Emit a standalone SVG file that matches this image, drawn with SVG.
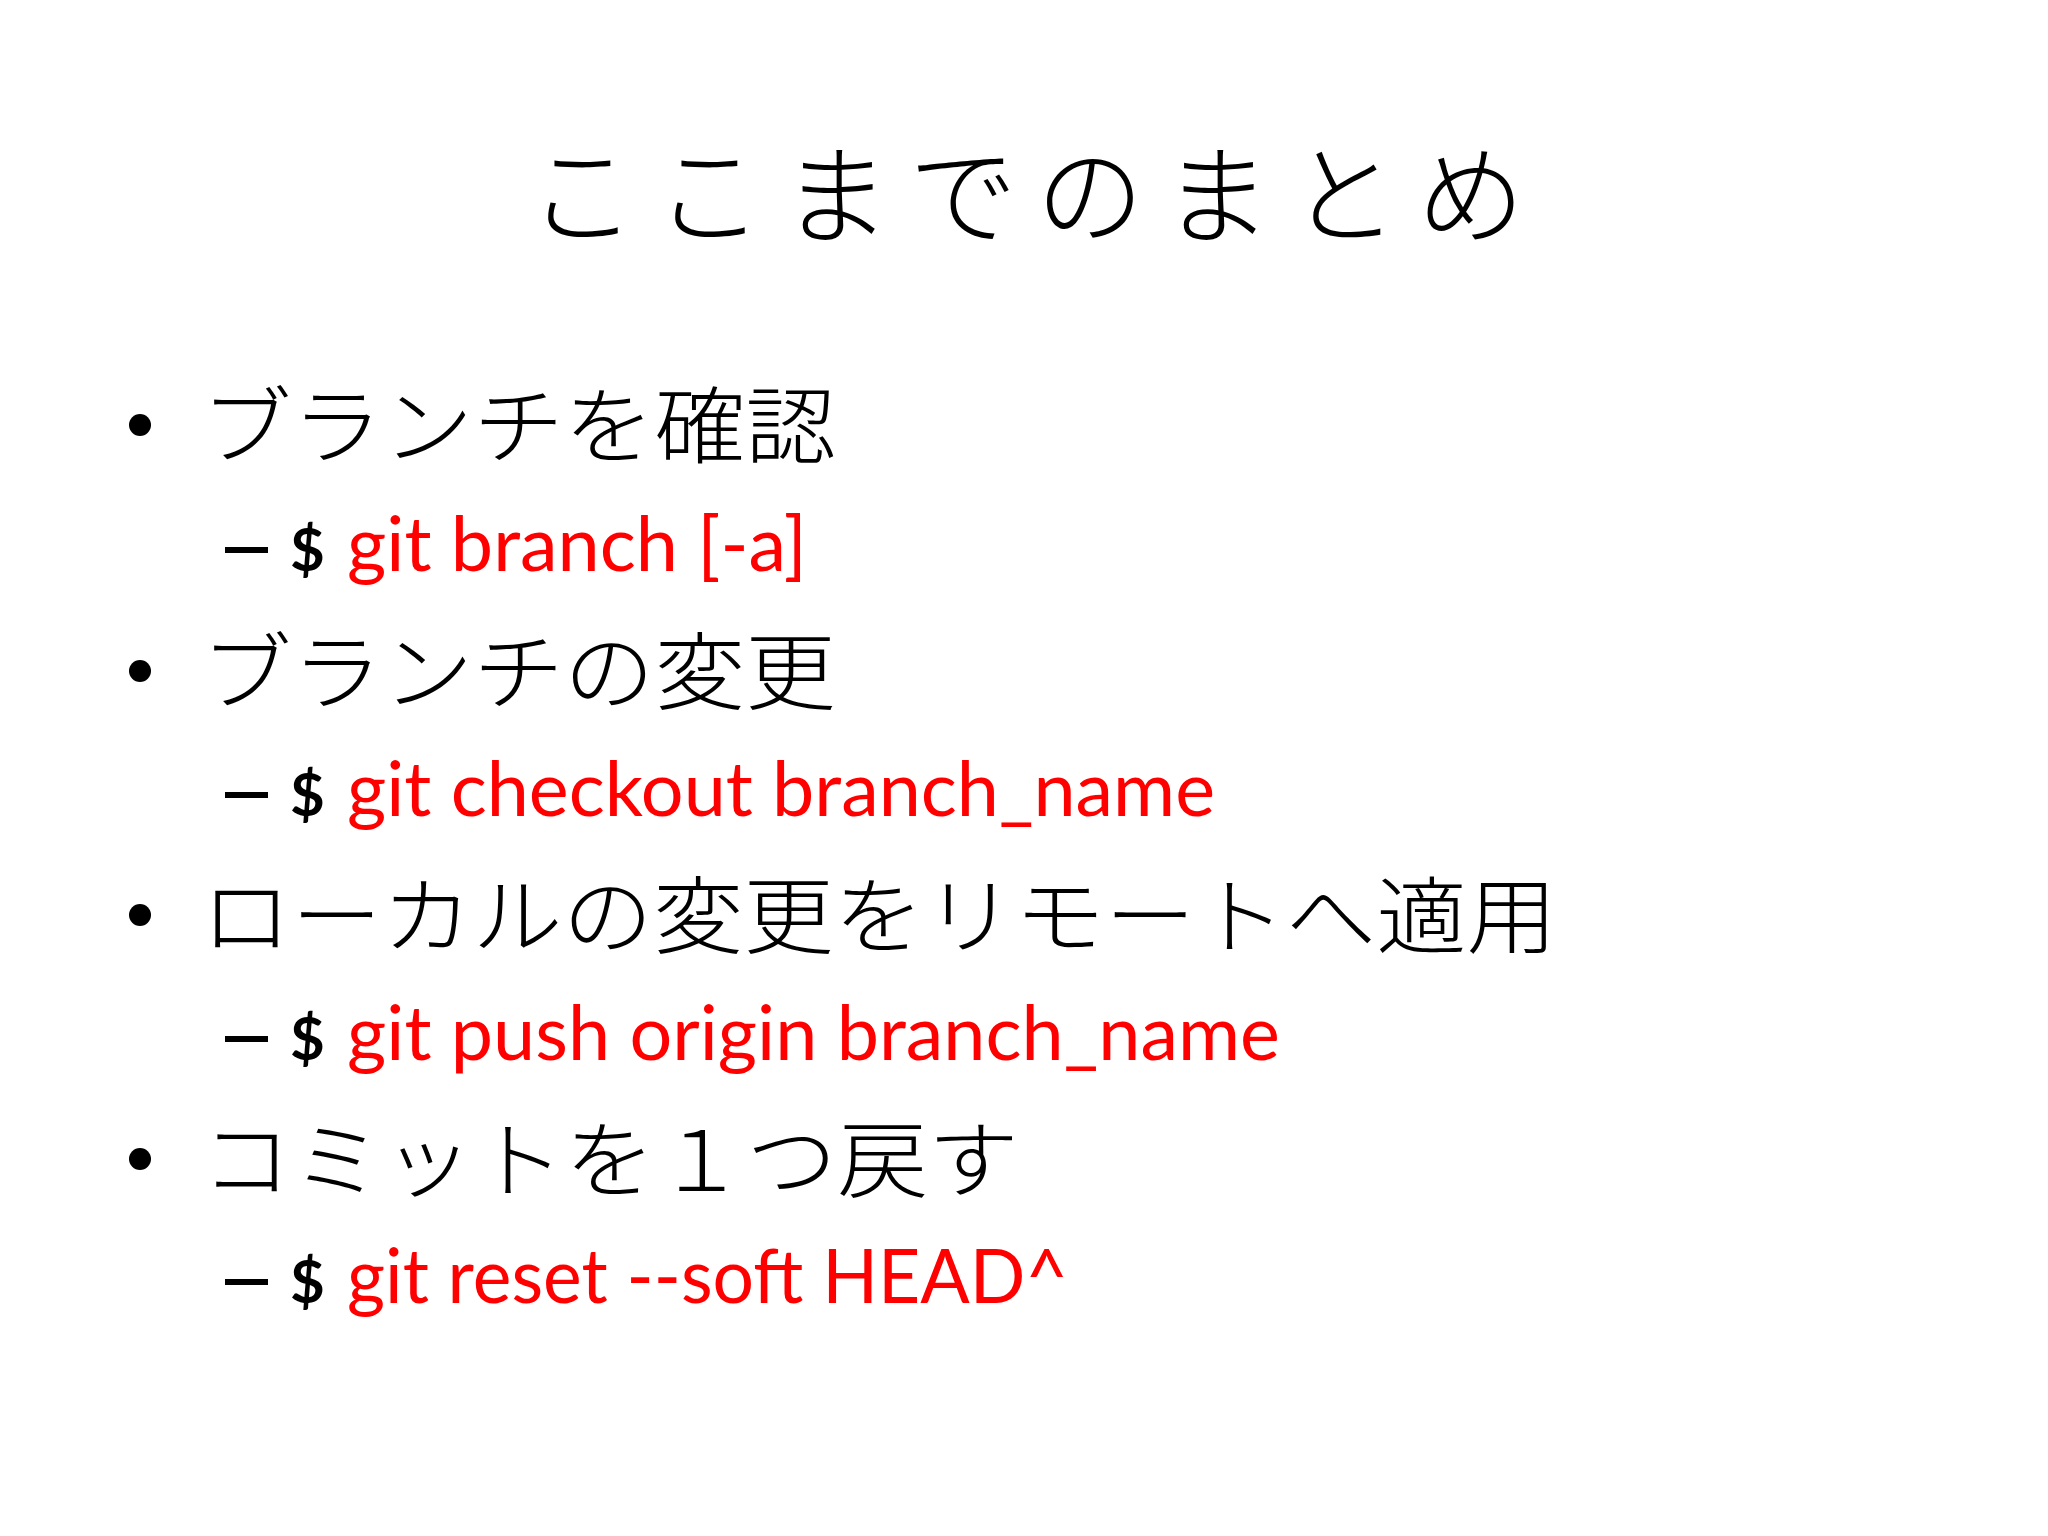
<svg xmlns="http://www.w3.org/2000/svg" width="2048" height="1536" viewBox="0 0 2048 1536">
<style>
.jp{font-family:"Noto Sans CJK JP",sans-serif;font-size:84px;fill:#000;font-weight:300}
.cmd{font-family:Lato,"Open Sans",sans-serif;font-size:76px;fill:#ff0000}
.dol{font-family:Lato,sans-serif;font-size:60px;font-weight:bold;fill:#000}
</style>
<rect width="2048" height="1536" fill="#fff"/>
<g id="title"><text x="1036" y="235" text-anchor="middle" font-family="'Noto Sans CJK JP',sans-serif" font-size="108" font-weight="300" letter-spacing="19">ここまでのまとめ</text></g>
<g id="item1">
<circle cx="140" cy="425" r="11"/>
<text class="jp" x="201" y="457" textLength="635" lengthAdjust="spacingAndGlyphs">ブランチを確認</text>
<rect x="225" y="547" width="43" height="6"/>
<text class="dol" x="290" y="571">$</text>
<text class="cmd" x="347" y="571" textLength="460" lengthAdjust="spacingAndGlyphs">git branch [-a]</text>
</g>
<g id="item2">
<circle cx="140" cy="671" r="11"/>
<text class="jp" x="201" y="703" textLength="635" lengthAdjust="spacingAndGlyphs">ブランチの変更</text>
<rect x="225" y="792" width="43" height="6"/>
<text class="dol" x="290" y="816">$</text>
<text class="cmd" x="347" y="816" textLength="868" lengthAdjust="spacingAndGlyphs">git checkout branch_name</text>
</g>
<g id="item3">
<circle cx="140" cy="915" r="11"/>
<text class="jp" x="201" y="947" textLength="1356" lengthAdjust="spacingAndGlyphs">ローカルの変更をリモートへ適用</text>
<rect x="225" y="1036" width="43" height="6"/>
<text class="dol" x="290" y="1060">$</text>
<text class="cmd" x="347" y="1060" textLength="933" lengthAdjust="spacingAndGlyphs">git push origin branch_name</text>
</g>
<g id="item4">
<circle cx="140" cy="1159" r="11"/>
<text class="jp" x="201" y="1191" textLength="818" lengthAdjust="spacingAndGlyphs">コミットを１つ戻す</text>
<rect x="225" y="1279" width="43" height="6"/>
<text class="dol" x="290" y="1303">$</text>
<text class="cmd" x="347" y="1303" textLength="721" lengthAdjust="spacingAndGlyphs">git reset --soft HEAD^</text>
</g>
<g id="connectors"/>
</svg>
